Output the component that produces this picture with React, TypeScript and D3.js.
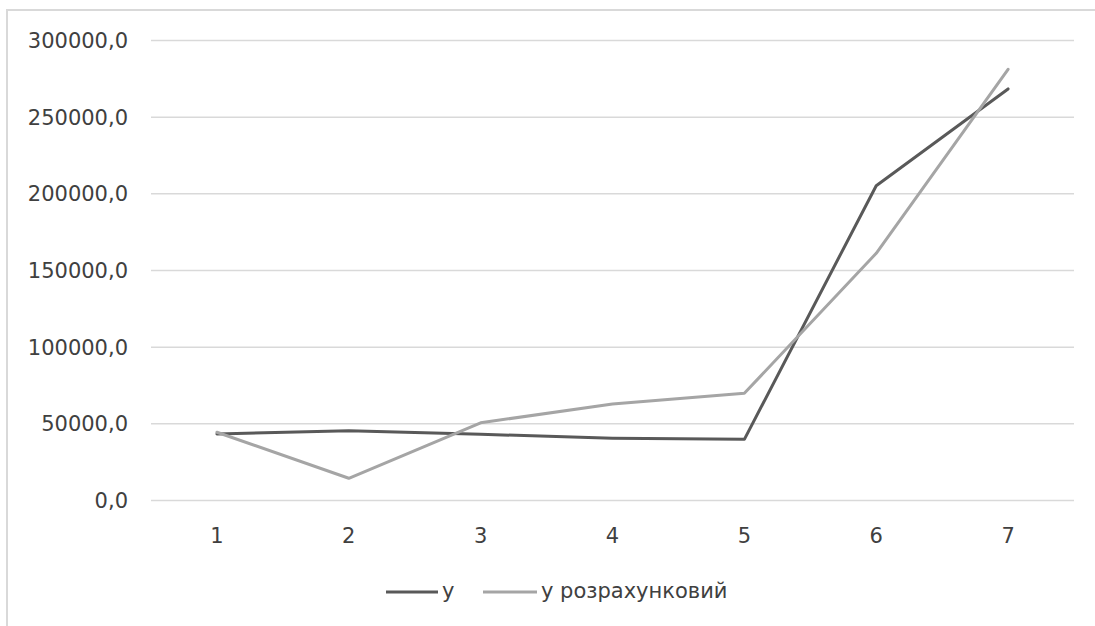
import React from "react";
import * as d3 from "d3";

const categories = ["1", "2", "3", "4", "5", "6", "7"];
const ySeries = [43400, 45500, 43200, 40600, 39900, 205300, 268400];
const yCalcSeries = [44500, 14500, 50700, 62900, 69900, 161200, 281200];
const yTicks = [0, 50000, 100000, 150000, 200000, 250000, 300000];
const seriesNames = ["у", "у розрахунковий"];
const seriesColors = ["#595959", "#a5a5a5"];

const W = 1095;
const H = 626;
const FONT = "'DejaVu Sans', sans-serif";

export default function App() {
  const x = d3.scaleBand<string>().domain(categories).range([151, 1074]);
  const y = d3.scaleLinear().domain([0, 300000]).range([500.5, 40.5]);
  const fmt = (v: number) => d3.format(".1f")(v).replace(".", ",");

  const line = d3
    .line<number>()
    .x((_, i) => (x(categories[i]) as number) + x.bandwidth() / 2)
    .y((d) => y(d));

  const series = [ySeries, yCalcSeries];

  return (
    <div style={{ position: "absolute", left: 0, top: 0 }}>
      <svg width={W} height={H} style={{ display: "block", background: "#fff" }}>
        <rect x={7} y={10} width={W + 10} height={H + 10} fill="#fff" stroke="#d9d9d9" strokeWidth={2} />
        {yTicks.map((t) => (
          <g key={t}>
            <line x1={151} x2={1074} y1={y(t)} y2={y(t)} stroke="#d9d9d9" strokeWidth={1.5} />
            <text
              x={128}
              y={y(t)}
              dy="0.36em"
              textAnchor="end"
              fontFamily={FONT}
              fontSize={21}
              fill="#404040"
            >
              {fmt(t)}
            </text>
          </g>
        ))}
        {categories.map((c) => (
          <text
            key={c}
            x={(x(c) as number) + x.bandwidth() / 2}
            y={543}
            textAnchor="middle"
            fontFamily={FONT}
            fontSize={21}
            fill="#404040"
          >
            {c}
          </text>
        ))}
        {series.map((s, i) => (
          <path
            key={i}
            d={line(s) || ""}
            fill="none"
            stroke={seriesColors[i]}
            strokeWidth={3}
            strokeLinejoin="round"
            strokeLinecap="round"
          />
        ))}
        <g>
          <line x1={386} x2={438} y1={592} y2={592} stroke={seriesColors[0]} strokeWidth={3} />
          <text x={442} y={598} fontFamily={FONT} fontSize={21} fill="#404040">
            {seriesNames[0]}
          </text>
          <line x1={483} x2={537} y1={592} y2={592} stroke={seriesColors[1]} strokeWidth={3} />
          <text x={541} y={598} fontFamily={FONT} fontSize={21} fill="#404040">
            {seriesNames[1]}
          </text>
        </g>
      </svg>
    </div>
  );
}
